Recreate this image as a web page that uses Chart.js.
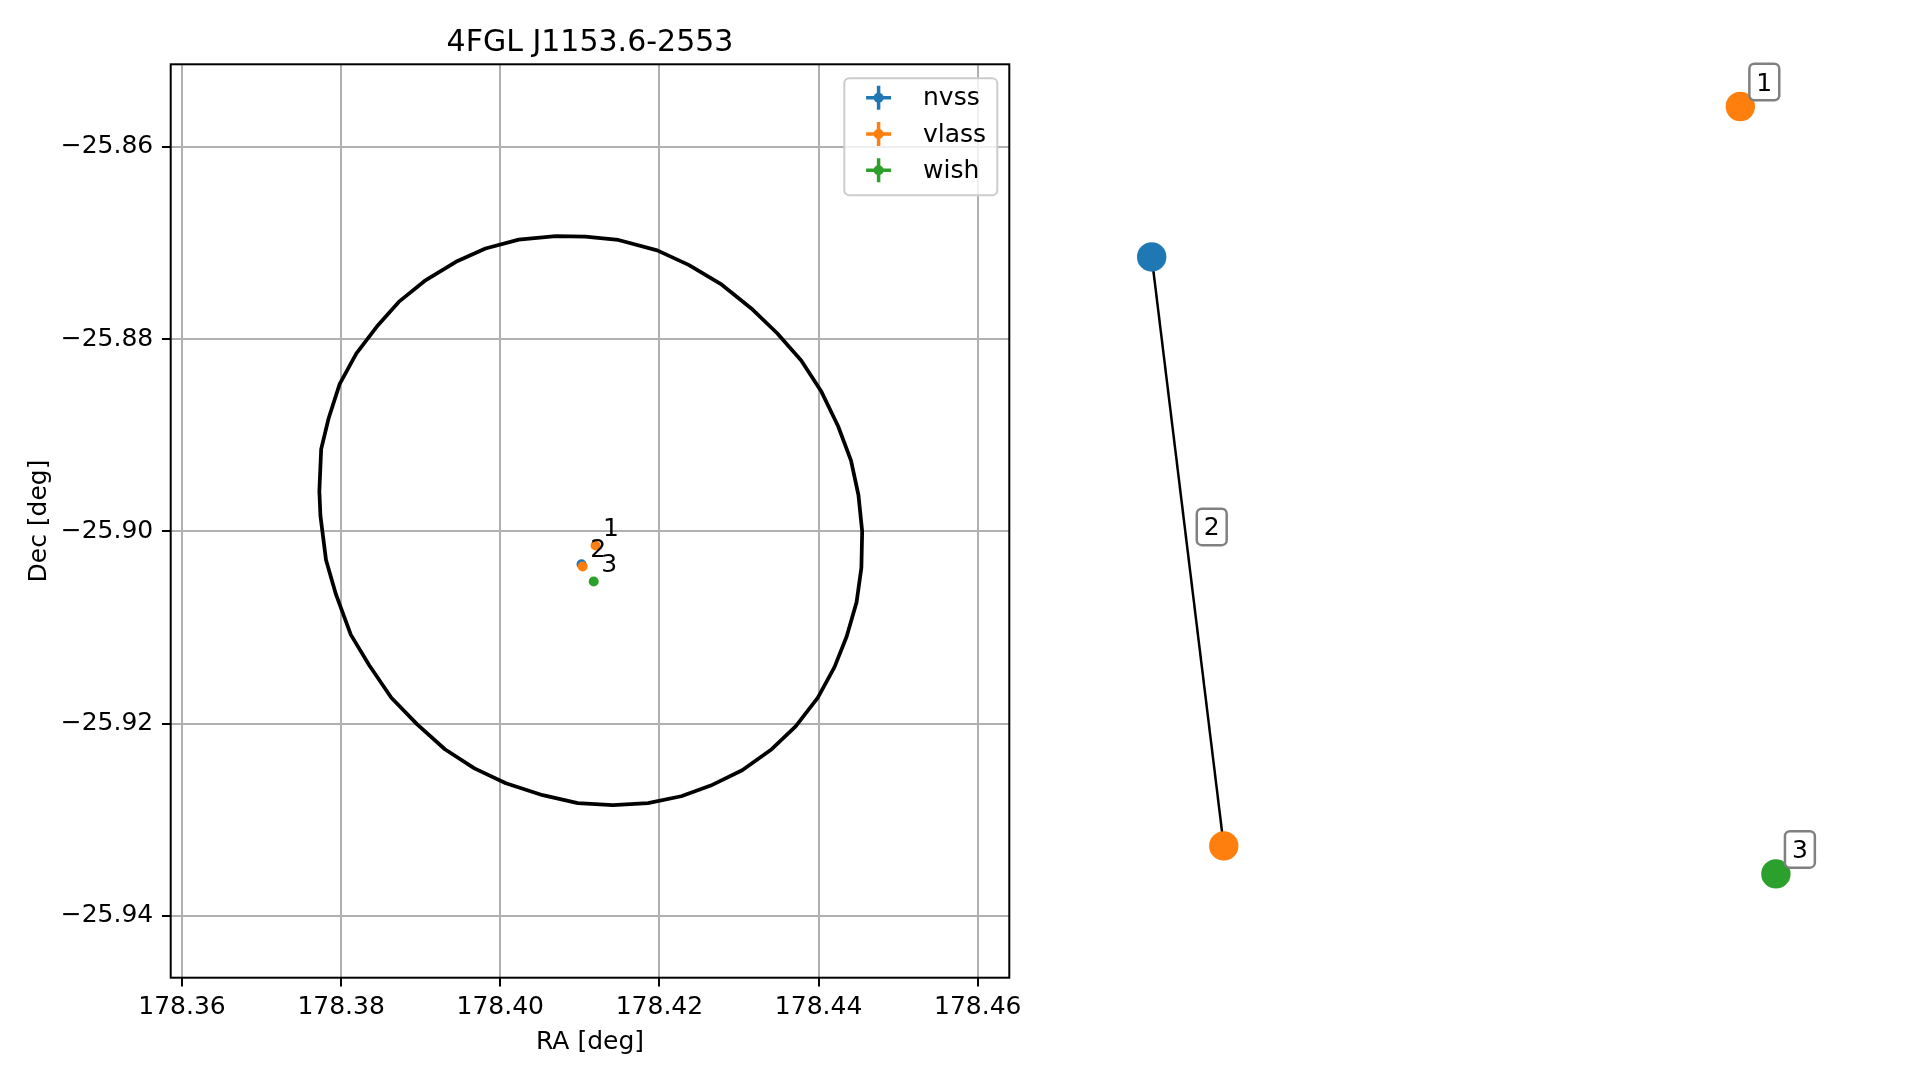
<!DOCTYPE html>
<html>
<head>
<meta charset="utf-8">
<script src="https://cdn.jsdelivr.net/npm/chart.js@4.4.1/dist/chart.umd.min.js"></script>
<style>
  html, body { margin: 0; padding: 0; background: #ffffff; width: 1919px; height: 1080px; overflow: hidden; }
  #left { position: absolute; left: 0; top: 0; }
  #right { position: absolute; left: 1050px; top: 0; }
</style>
</head>
<body>
<canvas id="left" width="1050" height="1080"></canvas>
<canvas id="right" width="869" height="1080"></canvas>
<script>
// ---------------- data ----------------
const chartTitle = '4FGL J1153.6-2553';
const xAxisTitle = 'RA [deg]';
const yAxisTitle = 'Dec [deg]';
const xTicks = [178.36, 178.38, 178.40, 178.42, 178.44, 178.46];
const yTicks = [-25.86, -25.88, -25.90, -25.92, -25.94];
const xRange = [178.35858, 178.46397];
const yRange = [-25.94642, -25.85143];

const catalogs = ['nvss', 'vlass', 'wish'];
const catalogColors = ['#1f77b4', '#ff7f0e', '#2ca02c'];

const nvssRA = [178.41021];
const nvssDec = [-25.90342];
const vlassRA = [178.41197, 178.41035];
const vlassDec = [-25.90147, -25.90366];
const wishRA = [178.41174];
const wishDec = [-25.90521];

// match ids and the source they are written next to
const matchIds = ['1', '2', '3'];
const matchLabelCat = ['vlass', 'vlass', 'wish'];
const matchLabelIdx = [0, 1, 0];

// Fermi error ellipse outline
const ellipseRA = [178.40696, 178.41067, 178.41485, 178.41972, 178.42367, 178.42784, 178.43155, 178.43480,
  178.43782, 178.44037, 178.44246, 178.44408, 178.44501, 178.44548, 178.44538, 178.44478, 178.44353,
  178.44200, 178.43991, 178.43712, 178.43411, 178.43040, 178.42645, 178.42274, 178.41856, 178.41415,
  178.40974, 178.40534, 178.40070, 178.39675, 178.39304, 178.38956, 178.38631, 178.38353, 178.38121,
  178.37935, 178.37810, 178.37740, 178.37726, 178.37749, 178.37842, 178.37981, 178.38190, 178.38446,
  178.38724, 178.39049, 178.39443, 178.39814, 178.40232, 178.40696];
const ellipseDec = [-25.86930, -25.86934, -25.86970, -25.87078, -25.87229, -25.87435, -25.87682, -25.87940,
  -25.88223, -25.88549, -25.88907, -25.89264, -25.89622, -25.90000, -25.90378, -25.90736, -25.91093,
  -25.91412, -25.91730, -25.92028, -25.92266, -25.92485, -25.92644, -25.92755, -25.92827, -25.92847,
  -25.92827, -25.92744, -25.92620, -25.92465, -25.92266, -25.92008, -25.91730, -25.91392, -25.91074,
  -25.90656, -25.90298, -25.89841, -25.89583, -25.89145, -25.88827, -25.88469, -25.88151, -25.87873,
  -25.87614, -25.87396, -25.87197, -25.87058, -25.86966, -25.86930];

// network graph (layout coordinates)
const netNodeCat = ['nvss', 'vlass', 'vlass', 'wish'];
const netNodeX = [-1.000, 0.886, -0.769, 1.000];
const netNodeY = [0.608, 1.000, -0.927, -1.000];
const netEdges = [[0, 2]];
const netGroups = [[1], [0, 2], [3]];
const netGroupLabels = ['1', '2', '3'];
const netXRange = [-1.3258, 1.4585];
const netYRange = [-1.5371, 1.2776];

// ---------------- helpers ----------------
Chart.defaults.font.family = '"DejaVu Sans", sans-serif';
Chart.defaults.color = '#000000';
const FONT = '"DejaVu Sans", sans-serif';
const catRA = { nvss: nvssRA, vlass: vlassRA, wish: wishRA };
const catDec = { nvss: nvssDec, vlass: vlassDec, wish: wishDec };
const colorOf = c => catalogColors[catalogs.indexOf(c)];
const pts = (xs, ys) => xs.map((x, i) => ({ x: x, y: ys[i] }));
const fmtY = v => (v < 0 ? '\u2212' : '') + Math.abs(v).toFixed(2);

// ---------------- left chart plugins ----------------
const frameAndLabels = {
  id: 'frameAndLabels',
  afterDatasetsDraw(chart) {
    const { ctx, chartArea: a } = chart;
    const xs = chart.scales.x, ys = chart.scales.y;
    ctx.save();
    ctx.font = '25px ' + FONT;
    ctx.fillStyle = '#000';
    ctx.textAlign = 'left';
    ctx.textBaseline = 'alphabetic';
    matchIds.forEach((id, i) => {
      const c = matchLabelCat[i], k = matchLabelIdx[i];
      const px = xs.getPixelForValue(catRA[c][k]);
      const py = ys.getPixelForValue(catDec[c][k]);
      ctx.fillText(id, px + 7.5, py - 9.5);
    });
    ctx.strokeStyle = '#000';
    ctx.lineWidth = 2;
    ctx.strokeRect(a.left, a.top, a.right - a.left, a.bottom - a.top);
    ctx.restore();
  }
};

const mplLegend = {
  id: 'mplLegend',
  afterDraw(chart) {
    const { ctx, chartArea: a } = chart;
    const boxW = 153, boxH = 117;
    const right = a.right - 12, top = a.top + 14;
    const left = right - boxW;
    ctx.save();
    ctx.beginPath();
    ctx.roundRect(left, top, boxW, boxH, 5);
    ctx.fillStyle = 'rgba(255,255,255,0.8)';
    ctx.fill();
    ctx.strokeStyle = '#cccccc';
    ctx.lineWidth = 2;
    ctx.stroke();
    catalogs.forEach((name, i) => {
      const cy = top + 19.5 + i * 36.2;
      const cx = left + 34.3;
      const col = catalogColors[i];
      ctx.strokeStyle = col;
      ctx.lineWidth = 3.5;
      ctx.beginPath();
      ctx.moveTo(cx - 12.5, cy); ctx.lineTo(cx + 12.5, cy);
      ctx.moveTo(cx, cy - 12); ctx.lineTo(cx, cy + 12);
      ctx.stroke();
      ctx.fillStyle = col;
      ctx.beginPath();
      ctx.arc(cx, cy, 5, 0, Math.PI * 2);
      ctx.fill();
      ctx.fillStyle = '#000';
      ctx.font = '25px ' + FONT;
      ctx.textAlign = 'left';
      ctx.textBaseline = 'alphabetic';
      ctx.fillText(name, left + 78.7, cy + 7.5);
    });
    ctx.restore();
  }
};

// ---------------- left chart ----------------
const gridOpts = { color: '#b0b0b0', lineWidth: 2, tickColor: '#000', tickWidth: 2, tickLength: 8.75, drawTicks: true };

new Chart(document.getElementById('left'), {
  type: 'scatter',
  data: {
    datasets: [
      {
        label: 'ellipse', type: 'line', data: pts(ellipseRA, ellipseDec), showLine: true,
        borderColor: '#000', borderWidth: 3.75, pointRadius: 0, pointHoverRadius: 0, fill: false,
        tension: 0, borderJoinStyle: 'round', order: 4
      },
      { label: 'nvss', data: pts(nvssRA, nvssDec), backgroundColor: colorOf('nvss'), pointRadius: 5, pointBorderWidth: 0, order: 3 },
      { label: 'vlass', data: pts(vlassRA, vlassDec), backgroundColor: colorOf('vlass'), pointRadius: 5, pointBorderWidth: 0, order: 2 },
      { label: 'wish', data: pts(wishRA, wishDec), backgroundColor: colorOf('wish'), pointRadius: 5, pointBorderWidth: 0, order: 1 }
    ]
  },
  options: {
    responsive: false,
    animation: false,
    events: [],
    layout: { padding: { left: 0, right: 40.7, top: 0, bottom: 0 } },
    plugins: {
      legend: { display: false },
      tooltip: { enabled: false },
      title: {
        display: true, text: chartTitle, fullSize: false, color: '#000',
        font: { size: 30, weight: 'normal' }, padding: { top: 24.9, bottom: 3.4 }
      }
    },
    scales: {
      x: {
        type: 'linear', position: 'bottom', min: xRange[0], max: xRange[1],
        afterBuildTicks: s => { s.ticks = xTicks.map(v => ({ value: v })); },
        afterFit: s => { s.height = 102.3; },
        grid: gridOpts,
        border: { display: false },
        ticks: { padding: 5.9, font: { size: 25 }, color: '#000', maxRotation: 0, autoSkip: false,
                 callback: v => Number(v).toFixed(2) },
        title: { display: true, text: xAxisTitle, color: '#000', font: { size: 25 }, padding: { top: 0, bottom: 22.8 } }
      },
      y: {
        type: 'linear', position: 'left', min: yRange[0], max: yRange[1],
        afterBuildTicks: s => { s.ticks = yTicks.map(v => ({ value: v })); },
        afterFit: s => { s.width = 170.7; },
        grid: gridOpts,
        border: { display: false },
        ticks: { padding: 8.75, font: { size: 25 }, color: '#000', autoSkip: false,
                 callback: v => fmtY(Number(v)) },
        title: { display: true, text: yAxisTitle, color: '#000', font: { size: 25 }, padding: { top: 24.7, bottom: 0 } }
      }
    }
  },
  plugins: [frameAndLabels, mplLegend]
});

// ---------------- right chart (match graph) ----------------
const netLabels = {
  id: 'netLabels',
  afterDatasetsDraw(chart) {
    const { ctx } = chart;
    const xs = chart.scales.x, ys = chart.scales.y;
    ctx.save();
    ctx.font = '25px ' + FONT;
    netGroups.forEach((g, i) => {
      const mx = g.reduce((s, n) => s + netNodeX[n], 0) / g.length;
      const my = g.reduce((s, n) => s + netNodeY[n], 0) / g.length;
      const cx = xs.getPixelForValue(mx) + 24;
      const cy = ys.getPixelForValue(my) - 24.5;
      const txt = netGroupLabels[i];
      const w = ctx.measureText(txt).width + 14;
      const h = 36.5;
      ctx.beginPath();
      ctx.roundRect(cx - w / 2, cy - h / 2, w, h, 5);
      ctx.fillStyle = '#ffffff';
      ctx.fill();
      ctx.strokeStyle = '#808080';
      ctx.lineWidth = 2.5;
      ctx.stroke();
      ctx.fillStyle = '#000';
      ctx.textAlign = 'center';
      ctx.textBaseline = 'middle';
      ctx.fillText(txt, cx, cy + 2);
    });
    ctx.restore();
  }
};

const edgeSets = netEdges.map(e => ({
  type: 'line',
  data: e.map(n => ({ x: netNodeX[n], y: netNodeY[n] })),
  showLine: true, borderColor: '#000', borderWidth: 2.5, pointRadius: 0, pointHoverRadius: 0,
  fill: false, tension: 0, order: 2
}));

new Chart(document.getElementById('right'), {
  type: 'scatter',
  data: {
    datasets: [
      ...edgeSets,
      {
        data: pts(netNodeX, netNodeY),
        backgroundColor: netNodeCat.map(colorOf),
        pointBackgroundColor: netNodeCat.map(colorOf),
        pointRadius: 14.7, pointHoverRadius: 14.7, pointBorderWidth: 0, order: 1
      }
    ]
  },
  options: {
    responsive: false,
    animation: false,
    events: [],
    layout: { padding: 0, autoPadding: false },
    plugins: { legend: { display: false }, tooltip: { enabled: false }, title: { display: false } },
    scales: {
      x: { type: 'linear', display: false, min: netXRange[0], max: netXRange[1] },
      y: { type: 'linear', display: false, min: netYRange[0], max: netYRange[1] }
    }
  },
  plugins: [netLabels]
});
</script>
</body>
</html>
